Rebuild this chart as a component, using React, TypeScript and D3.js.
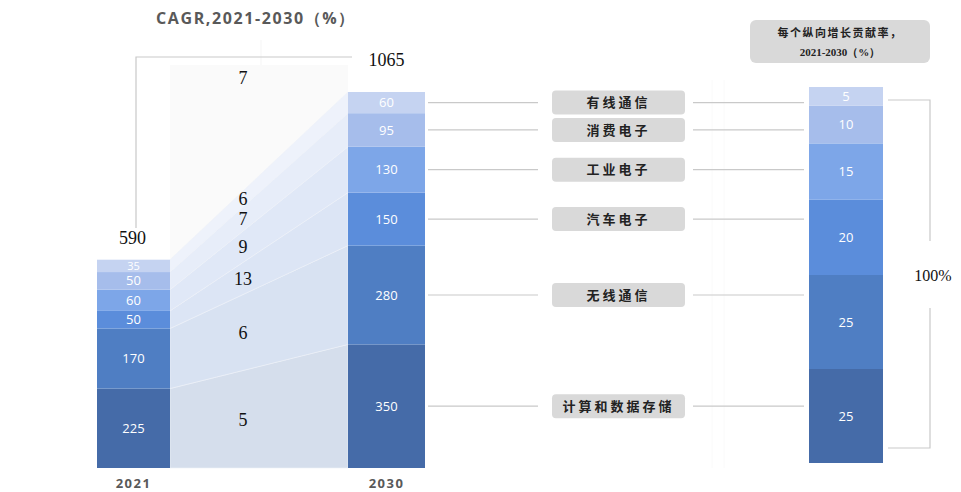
import React from 'react';
import * as d3 from 'd3';

// bottom -> top
const categories = ['计算和数据存储', '无线通信', '汽车电子', '工业电子', '消费电子', '有线通信'];
const years = ['2021', '2030'];
const values2021 = [225, 170, 50, 60, 50, 35];
const values2030 = [350, 280, 150, 130, 95, 60];
const cagrBySegment = [5, 6, 13, 9, 7, 6];
const cagrTotal = 7;
const total2021 = 590;
const total2030 = 1065;
const shareContribution = [25, 25, 20, 15, 10, 5];
const colors = ['#456ba8', '#4f7ec3', '#5b8ddb', '#7da6e8', '#a6bdeb', '#c5d3f1'];
const bandColors = ['#d5deec', '#d8e2f2', '#dce5f5', '#e0e8f7', '#e7edf9', '#eef2fb'];

const W = 961;
const H = 492;
const serif = '"Liberation Serif", "DejaVu Serif", serif';
const sans = '"Open Sans", "Noto Sans", sans-serif';
const cjk = '"Noto Sans CJK SC", sans-serif';

export default function App() {
  const baseY = 468;
  const y = d3.scaleLinear().domain([0, total2030]).range([baseY, 92]);
  const yPct = d3.scaleLinear().domain([0, 100]).range([463, 87]);

  const leftX = 97, leftW = 73;
  const rightX = 348, rightW = 77;
  const pctX = 809, pctW = 74;

  const stack = (vals: number[]) => {
    let acc = 0;
    return vals.map((v) => {
      const s = { y0: acc, y1: acc + v, v };
      acc += v;
      return s;
    });
  };
  const s21 = stack(values2021);
  const s30 = stack(values2030);
  const sPct = stack(shareContribution);

  const x0 = leftX + leftW;
  const x1 = rightX;
  const t = (243 - x0) / (x1 - x0);

  const legendBoxX = 552, legendBoxW = 133, legendBoxH = 24;
  const segFont = (h: number) => (h < 14 ? 11 : 13);

  return (
    <svg width={W} height={H} style={{ position: 'absolute', left: 0, top: 0, background: '#fff' }}>
      {/* faint verticals */}
      <line x1={261} x2={261} y1={40} y2={baseY} stroke="#f5f5f5" />
      <line x1={712} x2={712} y1={80} y2={baseY} stroke="#fafafa" />
      <line x1={724} x2={724} y1={80} y2={baseY} stroke="#fafafa" />

      {/* Title */}
      <text x={256} y={24} textAnchor="middle" fontFamily={sans} fontWeight={700} fontSize={16}
        fill="#595959" letterSpacing={1.6}>CAGR,2021-2030（%）</text>

      {/* middle background */}
      <rect x={x0} y={65} width={x1 - x0} height={baseY - 65} fill="#fafafa" />

      {/* bands */}
      {s21.map((a, i) => {
        const b = s30[i];
        const pts = [
          [x0, y(a.y0)], [x1, y(b.y0)], [x1, y(b.y1)], [x0, y(a.y1)],
        ];
        return <polygon key={'band' + i} points={pts.map((p) => p.join(',')).join(' ')}
          fill={bandColors[i]} stroke="#eef2f9" strokeWidth={0.6} />;
      })}

      {/* bracket top-left */}
      <polyline points={`136,228 136,57 352,57`} fill="none" stroke="#c9c9c9" strokeWidth={1.2} />

      {/* bars 2021 */}
      {s21.map((s, i) => {
        const h = y(s.y0) - y(s.y1);
        return (
          <g key={'l' + i}>
            <rect x={leftX} y={y(s.y1)} width={leftW} height={h} fill={colors[i]} />
            <text x={leftX + leftW / 2} y={(y(s.y0) + y(s.y1)) / 2} dy="0.33em" textAnchor="middle"
              fontFamily={sans} fontSize={segFont(h)} fill="#fff">{s.v}</text>
          </g>
        );
      })}
      {/* bars 2030 */}
      {s30.map((s, i) => (
        <g key={'r' + i}>
          <rect x={rightX} y={y(s.y1)} width={rightW} height={y(s.y0) - y(s.y1)} fill={colors[i]} />
          <text x={rightX + rightW / 2} y={(y(s.y0) + y(s.y1)) / 2} dy="0.36em" textAnchor="middle"
            fontFamily={sans} fontSize={13} fill="#fff">{s.v}</text>
        </g>
      ))}

      {/* totals */}
      <text x={leftX + leftW / 2 - 1} y={y(total2021) - 16} textAnchor="middle" fontFamily={serif} fontSize={18} fill="#111">{total2021}</text>
      <text x={rightX + rightW / 2} y={66} textAnchor="middle" fontFamily={serif} fontSize={18} fill="#111">{total2030}</text>

      {/* CAGR labels */}
      <text x={243} y={78} dy="0.36em" textAnchor="middle" fontFamily={serif} fontSize={18} fill="#111">{cagrTotal}</text>
      {cagrBySegment.map((c, i) => {
        const lo = s21[i].y0 + (s30[i].y0 - s21[i].y0) * t;
        const hi = s21[i].y1 + (s30[i].y1 - s21[i].y1) * t;
        return (
          <text key={'c' + i} x={243} y={y((lo + hi) / 2)} dy="0.36em" textAnchor="middle"
            fontFamily={serif} fontSize={18} fill="#111">{c}</text>
        );
      })}

      {/* year labels */}
      <text x={leftX + leftW / 2} y={488} textAnchor="middle" fontFamily={sans} fontWeight={700} fontSize={13} fill="#595959" letterSpacing={1.5}>{years[0]}</text>
      <text x={rightX + rightW / 2} y={488} textAnchor="middle" fontFamily={sans} fontWeight={700} fontSize={13} fill="#595959" letterSpacing={1.5}>{years[1]}</text>

      {/* legend lines and boxes */}
      {s30.map((s, i) => {
        const cy = (y(s.y0) + y(s.y1)) / 2;
        return (
          <g key={'lg' + i}>
            <line x1={rightX + rightW + 3} x2={538} y1={cy} y2={cy} stroke="#c9c9c9" strokeWidth={1.2} />
            <line x1={693} x2={804} y1={cy} y2={cy} stroke="#c9c9c9" strokeWidth={1.2} />
            <rect x={legendBoxX} y={cy - legendBoxH / 2} width={legendBoxW} height={legendBoxH} rx={4} fill="#d9d9d9" />
            <text x={legendBoxX + legendBoxW / 2} y={cy} dy="0.36em" textAnchor="middle" fontFamily={cjk}
              fontWeight={700} fontSize={13} fill="#222" letterSpacing={3}>{categories[i]}</text>
          </g>
        );
      })}

      {/* right note box */}
      <rect x={750} y={20} width={180} height={43} rx={6} fill="#d9d9d9" />
      <text x={840} y={37} textAnchor="middle" fontFamily={cjk} fontWeight={700} fontSize={11} fill="#222" letterSpacing={1.5}>每个纵向增长贡献率，</text>
      <text x={840} y={56} textAnchor="middle" fontFamily={serif} fontWeight={700} fontSize={11} fill="#222">2021-2030（%）</text>

      {/* percentage bar */}
      {sPct.map((s, i) => (
        <g key={'p' + i}>
          <rect x={pctX} y={yPct(s.y1)} width={pctW} height={yPct(s.y0) - yPct(s.y1)} fill={colors[i]} />
          <text x={pctX + pctW / 2} y={(yPct(s.y0) + yPct(s.y1)) / 2} dy="0.36em" textAnchor="middle"
            fontFamily={sans} fontSize={13} fill="#fff">{s.v}</text>
        </g>
      ))}

      {/* right bracket */}
      <polyline points={`888,100 930,100 930,241`} fill="none" stroke="#c9c9c9" strokeWidth={1.2} />
      <polyline points={`930,308 930,448 888,448`} fill="none" stroke="#c9c9c9" strokeWidth={1.2} />
      <text x={933} y={275} dy="0.36em" textAnchor="middle" fontFamily={serif} fontSize={16} fill="#111">100%</text>
    </svg>
  );
}
